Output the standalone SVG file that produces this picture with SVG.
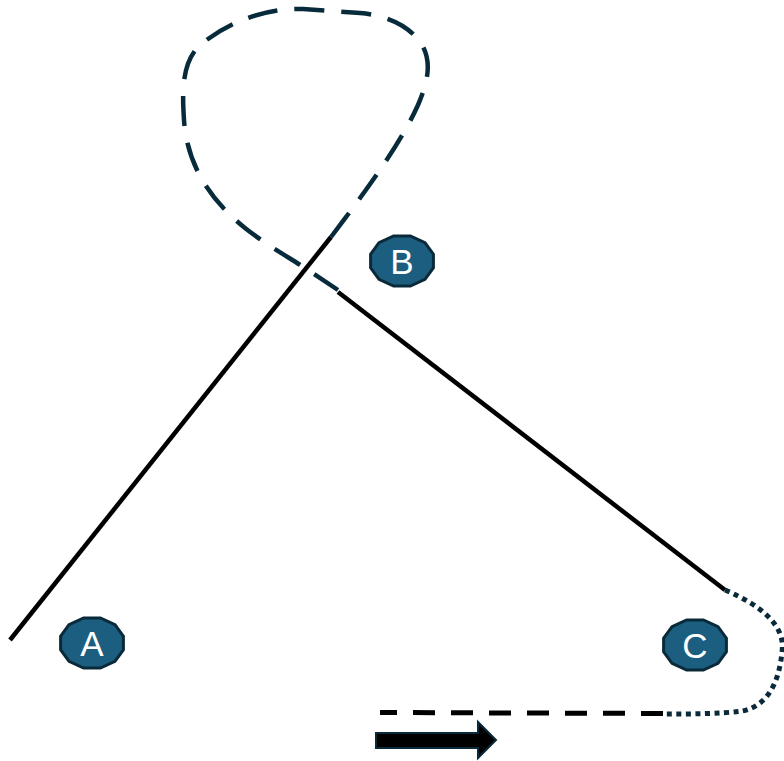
<svg xmlns="http://www.w3.org/2000/svg" width="784" height="761" viewBox="0 0 784 761">
  <style>
    .solid { fill: none; stroke: #000; stroke-width: 4.5; }
    .dashed { fill: none; stroke: #082b3c; stroke-width: 4.5; stroke-dasharray: 30 17; }
    .dotted { fill: none; stroke: #0a2a3a; stroke-width: 5; stroke-dasharray: 5 4.5; }
    .blackdash { fill: none; stroke: #000; stroke-width: 5; stroke-dasharray: 22 16; }
    .badge { fill: #1b5e80; stroke: #0a2a3a; stroke-width: 3; }
    .lbl { fill: #fff; font-family: "Liberation Sans", Arial, sans-serif; font-size: 35px; text-anchor: middle; }
  </style>
  <defs>
    <polygon id="oct" class="badge" points="31.4,6.8 23,18.4 8.4,25.1 -8.4,25.1 -23,18.4 -31.4,6.8 -31.4,-6.8 -23,-18.4 -8.4,-25.1 8.4,-25.1 23,-18.4 31.4,-6.8"/>
  </defs>
  <g id="connectors">
    <path class="solid" d="M 10,640 L 331,237"/>
    <path class="dashed" d="M 331,237 C 365,192 400,145 418,105 C 428,82 432,62 422,45 C 410,25 385,15 360,13 L 303,9 C 260,8 225,25 200,45 C 182,62 182,90 184,120 C 187,165 210,200 245,228 C 265,244 290,258 308,270 L 338,290"/>
    <path class="solid" d="M 338,292 L 725,590"/>
    <path class="dotted" d="M 725,590 C 760,605 786,625 782,652 C 779,682 768,706 742,711 C 720,714 690,714 663,714"/>
    <path class="blackdash" d="M 663,713.5 L 380,712.5"/>
    <path id="arrow" d="M 376,733 L 478,733 L 478,722 L 496,740 L 478,758 L 478,748 L 376,748 Z" fill="#000" stroke="#0a2a3a" stroke-width="2"/>
  </g>
  <g id="node-A">
    <use href="#oct" x="92" y="643"/>
    <text class="lbl" x="92" y="655.5">A</text>
  </g>
  <g id="node-B">
    <use href="#oct" x="402" y="261"/>
    <text class="lbl" x="402" y="273.5">B</text>
  </g>
  <g id="node-C">
    <use href="#oct" x="695" y="645"/>
    <text class="lbl" x="695" y="657.5">C</text>
  </g>
</svg>
